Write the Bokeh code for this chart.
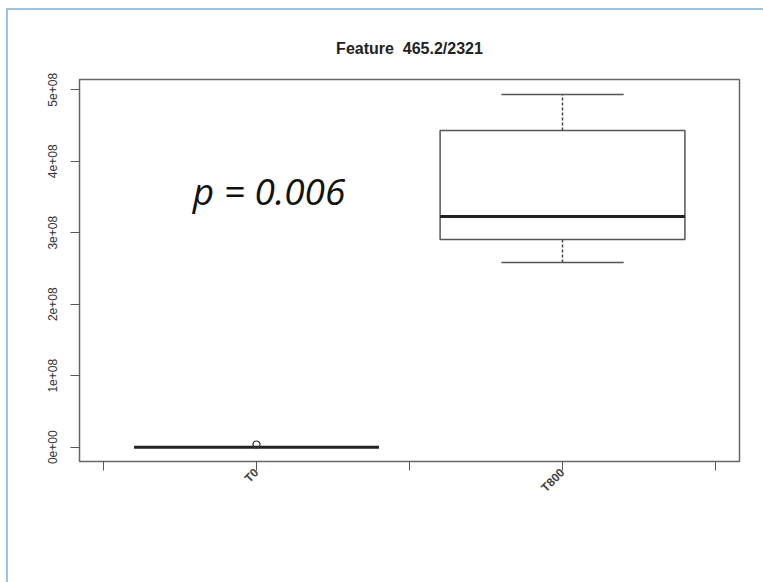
import math
from bokeh.plotting import figure
from bokeh.models import FixedTicker, Range1d, ColumnDataSource
from bokeh.core.properties import value
from bokeh.embed import file_html
from bokeh.resources import INLINE

# ---- data ----
groups = ["T0", "T800"]
lower_whisker = [0.0, 2.584e8]
q1 = [0.0, 2.906e8]
median = [0.0, 3.227e8]
q3 = [0.0, 4.431e8]
upper_whisker = [0.0, 4.934e8]
outlier_group = ["T0"]
outlier_value = [3.8e6]
y_ticks = [0, 1e8, 2e8, 3e8, 4e8, 5e8]
y_tick_labels = ["0e+00", "1e+08", "2e+08", "3e+08", "4e+08", "5e+08"]
title_text = "Feature\u00a0\u00a0465.2/2321"
p_text = "p = 0.006"

xpos = [i + 1 for i in range(len(groups))]
box_w = 0.8
cap_w = 0.4

src = ColumnDataSource(dict(
    x=xpos, lo=lower_whisker, q1=q1, med=median, q3=q3, hi=upper_whisker,
    xl=[x - box_w / 2 for x in xpos], xr=[x + box_w / 2 for x in xpos],
    cl=[x - cap_w / 2 for x in xpos], cr=[x + cap_w / 2 for x in xpos],
))

p = figure(width=763, height=582, output_backend="svg", toolbar_location=None,
           x_range=Range1d(0.4216, 2.5784), y_range=Range1d(-0.200e8, 5.144e8),
           min_border_left=79, min_border_right=24, min_border_top=79, min_border_bottom=121)

p.border_fill_color = None
p.background_fill_color = "white"
p.outline_line_color = "#666666"
p.outline_line_width = 1.5
p.grid.visible = False
p.styles = {
    "background": "linear-gradient(#9cc3e5,#9cc3e5) 6px 8px / 757px 2px no-repeat, "
                  "linear-gradient(#9cc3e5,#9cc3e5) 6px 8px / 2px 574px no-repeat, #ffffff"
}

# title
p.title.text = title_text
p.title.align = "center"
p.title.text_font = "Liberation Sans"
p.title.text_font_style = "bold"
p.title.text_font_size = "16px"
p.title.text_color = "#222222"
p.title.standoff = 45

# y axis
ya = p.yaxis[0]
ya.ticker = FixedTicker(ticks=y_ticks)
ya.major_label_overrides = {t: l for t, l in zip(y_ticks, y_tick_labels)}
ya.major_label_orientation = "vertical"
ya.major_label_text_font = "Liberation Sans"
ya.major_label_text_font_size = "12px"
ya.major_label_text_color = "#333333"
ya.major_label_standoff = 13
ya.axis_line_color = None
ya.major_tick_line_color = "#555555"
ya.major_tick_out = 9
ya.major_tick_in = 0
ya.minor_tick_line_color = None

# x axis
xa = p.xaxis[0]
x_ticks = [0.5, 1, 1.5, 2, 2.5]
overrides = {0.5: "", 1.5: "", 2.5: ""}
for x, g in zip(xpos, groups):
    overrides[x] = g
xa.ticker = FixedTicker(ticks=x_ticks)
xa.major_label_overrides = overrides
xa.major_label_orientation = math.pi / 4
xa.major_label_text_font = "Liberation Sans"
xa.major_label_text_font_size = "12px"
xa.major_label_text_font_style = "bold"
xa.major_label_text_color = "#444444"
xa.major_label_standoff = 0
xa.axis_line_color = None
xa.major_tick_line_color = "#555555"
xa.major_tick_out = 9
xa.major_tick_in = 0
xa.minor_tick_line_color = None

# whiskers
p.segment(x0="x", y0="q3", x1="x", y1="hi", source=src, line_color="#444444",
          line_width=1.5, line_dash="3 2")
p.segment(x0="x", y0="lo", x1="x", y1="q1", source=src, line_color="#444444",
          line_width=1.5, line_dash="3 2")
p.segment(x0="cl", y0="hi", x1="cr", y1="hi", source=src, line_color="#555555", line_width=1.3)
p.segment(x0="cl", y0="lo", x1="cr", y1="lo", source=src, line_color="#555555", line_width=1.3)
# boxes
p.quad(left="xl", right="xr", bottom="q1", top="q3", source=src, fill_color="white",
       line_color="#555555", line_width=1.5)
# medians
p.segment(x0="xl", y0="med", x1="xr", y1="med", source=src, line_color="#222222", line_width=3)

# outliers
p.scatter([xpos[groups.index(g)] for g in outlier_group], outlier_value, size=7,
          marker="circle", fill_color=None, line_color="#333333", line_width=1.2)

# p-value annotation
p.text(x=[1.041], y=[3.59e8], text=[p_text], text_font=value("Open Sans"),
       text_font_style="italic", text_font_size="37px", text_color="#111111",
       text_align="center", text_baseline="alphabetic")

open("out.html", "w").write(file_html(p, INLINE))
